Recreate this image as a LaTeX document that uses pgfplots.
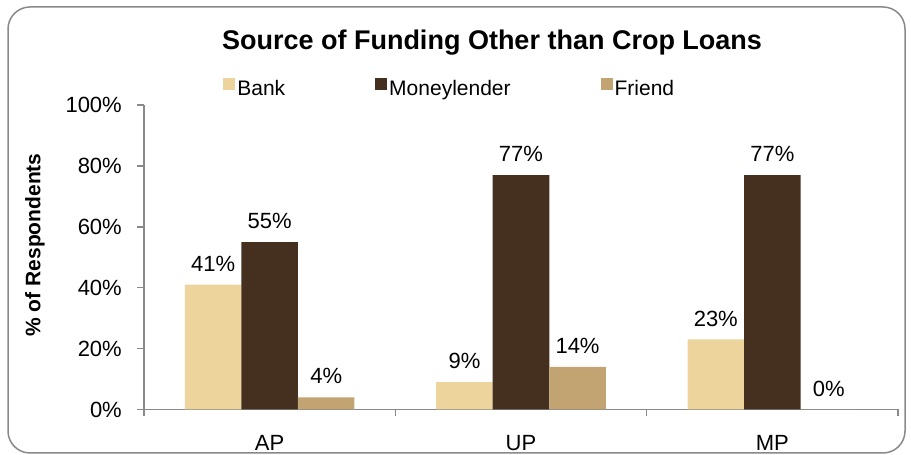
\documentclass[border=0pt]{standalone}
\usepackage{fontspec}
\setmainfont{Liberation Sans}
\usepackage{pgfplots}
\pgfplotsset{compat=1.18}
\definecolor{bank}{HTML}{EDD39C}
\definecolor{money}{HTML}{45301F}
\definecolor{friend}{HTML}{C2A472}
\definecolor{axgray}{HTML}{898989}
\pgfplotsset{sqlegend/.style={legend image code/.code={\fill[##1,draw=none] (0pt,-2pt) rectangle (12pt,10pt);}}}
\begin{document}
\begin{tikzpicture}[x=1pt,y=1pt]
\useasboundingbox (0,0) rectangle (911,455);
\draw[axgray, line width=1.5pt, rounded corners=22pt] (8,2) rectangle (905,448);
\node[font=\fontsize{27}{32}\selectfont\bfseries] at (492,412) {Source of Funding Other than Crop Loans};
\begin{axis}[
  at={(144pt,45.5pt)}, anchor=south west,
  scale only axis, width=754pt, height=304.5pt,
  xmin=-0.5, xmax=2.5, ymin=0, ymax=100,
  clip=false,
  axis x line*=bottom, axis y line*=left,
  axis line style={axgray, line width=1.5pt},
  tick style={axgray, line width=1.5pt},
  tick align=outside, major tick length=7pt,
  xtick={-0.5,0.5,1.5,2.5}, xticklabels={},
  extra x ticks={0,1,2}, extra x tick labels={AP,UP,MP},
  extra x tick style={major tick length=0pt, xticklabel style={anchor=base, yshift=-41.5pt}},
  ytick={0,20,40,60,80,100},
  yticklabel={\pgfmathprintnumber{\tick}\%},
  /pgf/number format/assume math mode=true,
  tick label style={font=\fontsize{22}{26}\selectfont},
  yticklabel style={anchor=east, inner sep=0pt, xshift=-15pt},
  ylabel={\% of Respondents},
  ylabel style={at={(rel axis cs:-0.1446,0.54)}, anchor=center, font=\fontsize{21}{25}\selectfont\bfseries},
  legend columns=3,
  legend style={at={(rel axis cs:0.105,1.056)}, anchor=west, draw=none, fill=none, inner sep=0pt,
    font=\fontsize{21}{25}\selectfont, nodes={inner xsep=2pt, inner ysep=1pt},
    /tikz/every even column/.append style={column sep=88pt}},
  legend cell align=left,
  point meta=y,
  nodes near coords={\pgfmathprintnumber{\pgfplotspointmeta}\%},
  nodes near coords style={font=\fontsize{22}{26}\selectfont, anchor=south, inner sep=0pt, yshift=13pt, text=black},
]
\addplot[ybar, bar width=0.225, bar shift=0, fill=bank, draw=none, sqlegend] coordinates {(-0.225,41) (0.775,9) (1.775,23)};
\addplot[ybar, bar width=0.225, bar shift=0, fill=money, draw=none, sqlegend] coordinates {(0,55) (1,77) (2,77)};
\addplot[ybar, bar width=0.225, bar shift=0, fill=friend, draw=none, sqlegend] coordinates {(0.225,4) (1.225,14) (2.225,0)};
\legend{Bank,Moneylender,Friend}
\end{axis}
\end{tikzpicture}
\end{document}
